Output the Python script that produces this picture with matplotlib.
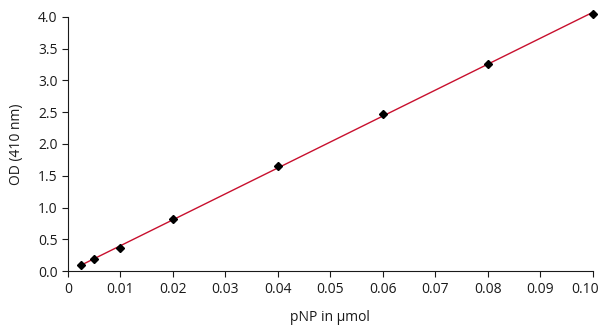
import numpy as np
import matplotlib.pyplot as plt
import matplotlib.transforms as mtransforms

pnp = [0.0025, 0.005, 0.01, 0.02, 0.04, 0.06, 0.08, 0.10]
od = [0.09, 0.19, 0.36, 0.82, 1.65, 2.47, 3.26, 4.04]

plt.rcParams['font.family'] = ['Open Sans', 'DejaVu Sans']

fig = plt.figure(figsize=(6, 3.31), dpi=100)
ax = fig.add_axes([0.113, 0.181, 0.875, 0.768])

slope, icpt = np.polyfit(pnp, od, 1)
fit_x = np.array([pnp[0], pnp[-1]])
ax.plot(fit_x, slope * fit_x + icpt, color='#c8102e', lw=1.0, zorder=2, clip_on=False)
ax.plot(pnp, od, 'D', color='black', ms=4, zorder=3, clip_on=False)

ax.set_xlim(0, 0.10)
ax.set_ylim(0, 4.0)
ax.set_xticks(np.arange(0, 0.101, 0.01))
ax.set_xticklabels(['0'] + ['%.2f' % v for v in np.arange(0.01, 0.101, 0.01)])
ax.set_yticks(np.arange(0, 4.01, 0.5))
ax.set_yticklabels(['%.1f' % v for v in np.arange(0, 4.01, 0.5)])
ax.tick_params(direction='out', length=4, width=0.8, labelsize=10, colors='#1a1a1a')
for s in ['top', 'right']:
    ax.spines[s].set_visible(False)
for s in ['left', 'bottom']:
    ax.spines[s].set_linewidth(0.8)
    ax.spines[s].set_color('#1a1a1a')

# keep the last x label inside the figure
last = ax.get_xticklabels()[-1]
last.set_transform(last.get_transform() + mtransforms.ScaledTranslation(-8 / 100, 0, fig.dpi_scale_trans))

ax.set_xlabel('pNP in µmol', fontsize=10, labelpad=10, color='#1a1a1a')
ax.set_ylabel('OD (410 nm)', fontsize=10, labelpad=10, color='#1a1a1a')

fig.savefig('out.png', dpi=100)
